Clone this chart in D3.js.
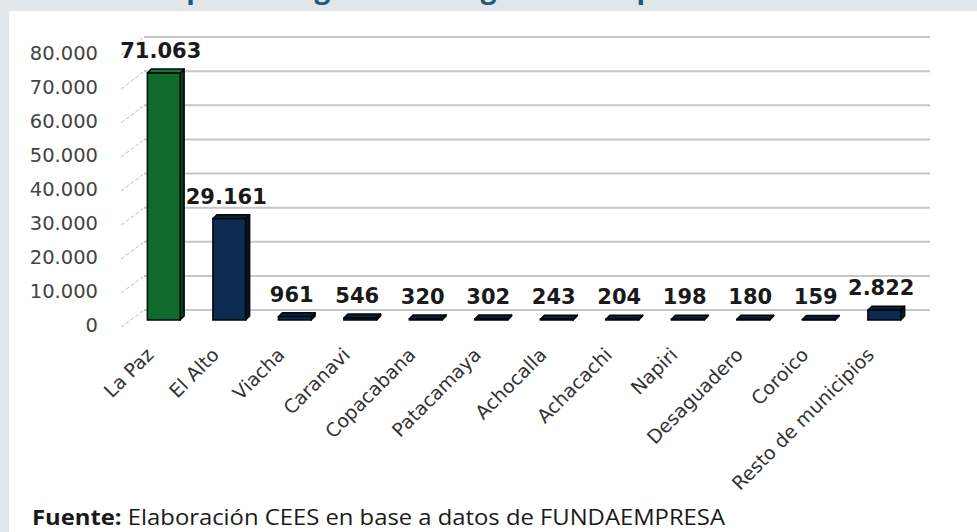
<!DOCTYPE html>
<html>
<head>
<meta charset="utf-8">
<script src="https://cdn.jsdelivr.net/npm/d3@7"></script>
<style>
  html, body { margin: 0; padding: 0; background: #e1e6ea; }
  svg { display: block; }
</style>
</head>
<body>
<svg id="chart" width="977" height="532"></svg>
<script>
// data
var municipios = ["La Paz", "El Alto", "Viacha", "Caranavi", "Copacabana", "Patacamaya",
                  "Achocalla", "Achacachi", "Napiri", "Desaguadero", "Coroico", "Resto de municipios"];
var empresas = [71063, 29161, 961, 546, 320, 302, 243, 204, 198, 180, 159, 2822];
var yTicks = [0, 10000, 20000, 30000, 40000, 50000, 60000, 70000, 80000];

var titulo = "Empresas registradas según municipio de La Paz";
var fuente = "Elaboración CEES en base a datos de FUNDAEMPRESA";

makeChart();

function makeChart() {
  var svg = d3.select("#chart");

  // es-BO style numbers: 80.000
  var fmt = d3.formatLocale({ decimal: ",", thousands: ".", grouping: [3], currency: ["", ""] }).format(",");

  // white card
  svg.append("rect")
      .attr("x", 9).attr("y", 11)
      .attr("width", 968).attr("height", 521)
      .attr("fill", "#ffffff");

  // title is cut by the top of the picture, only the descenders show
  svg.append("text")
      .attr("x", 480).attr("y", -2)
      .attr("text-anchor", "middle")
      .style("font-family", "'Open Sans', sans-serif")
      .style("font-weight", "bold")
      .style("font-size", "28px")
      .style("fill", "#1b5d77")
      .text(titulo);

  var x = d3.scaleBand()
      .domain(municipios)
      .range([131, 917])
      .paddingInner(0.5)
      .paddingOuter(0.25);

  // front face of the bars, back wall of the 3d plot, and the axis labels
  var yFront = d3.scaleLinear().domain([0, 80000]).range([320, 42]);
  var yBack  = d3.scaleLinear().domain([0, 80000]).range([310, 37]);
  var yLab   = d3.scaleLinear().domain([0, 80000]).range([325, 53]);

  var depth = 4;

  // back wall gridlines
  svg.append("g")
      .selectAll("line")
      .data(yTicks)
      .enter()
      .append("line")
        .attr("x1", 144).attr("x2", 930)
        .attr("y1", function(d) { return yBack(d); })
        .attr("y2", function(d) { return yBack(d); })
        .attr("stroke", "#c6c6c6")
        .attr("stroke-width", 2);

  // slanted little ticks from labels into the wall
  svg.append("g")
      .selectAll("line")
      .data(yTicks)
      .enter()
      .append("line")
        .attr("x1", 121).attr("x2", 143)
        .attr("y1", function(d) { return yLab(d) + 2; })
        .attr("y2", function(d) { return yBack(d) + 1; })
        .attr("stroke", "#bdbdbd")
        .attr("stroke-width", 1)
        .attr("stroke-dasharray", "4,2");

  // y axis labels
  var yAxis = d3.axisLeft(yLab)
      .tickValues(yTicks)
      .tickFormat(fmt)
      .tickSize(0)
      .tickPadding(0);

  var gy = svg.append("g")
      .attr("transform", "translate(98,0)")
      .call(yAxis);
  gy.select(".domain").remove();
  gy.selectAll("text")
      .style("font-family", "'DejaVu Sans', sans-serif")
      .style("font-size", "19.5px")
      .style("fill", "#444444");

  var front = function(i) { return i == 0 ? "#0f6a2c" : "#0d2b50"; };
  var side  = function(i) { return i == 0 ? "#073e18" : "#06172d"; };
  var top   = function(i) { return i == 0 ? "#157a35" : "#0a1f3a"; };

  var bars = svg.append("g")
      .selectAll("g")
      .data(empresas)
      .enter()
      .append("g");

  // right side face
  bars.append("polygon")
      .attr("points", function(d, i) {
        var x1 = x(municipios[i]) + x.bandwidth(), yt = yFront(d), yb = yFront(0);
        return [[x1, yt], [x1 + depth, yt - depth], [x1 + depth, yb - depth], [x1, yb]].join(" ");
      })
      .attr("fill", function(d, i) { return side(i); })
      .attr("stroke", "#03060a")
      .attr("stroke-width", 1.5)
      .attr("stroke-linejoin", "round");

  // top face
  bars.append("polygon")
      .attr("points", function(d, i) {
        var x0 = x(municipios[i]), x1 = x0 + x.bandwidth(), yt = yFront(d);
        return [[x0, yt], [x0 + depth, yt - depth], [x1 + depth, yt - depth], [x1, yt]].join(" ");
      })
      .attr("fill", function(d, i) { return top(i); })
      .attr("stroke", "#03060a")
      .attr("stroke-width", 1.5)
      .attr("stroke-linejoin", "round");

  // front face
  bars.append("rect")
      .attr("x", function(d, i) { return x(municipios[i]); })
      .attr("y", function(d) { return yFront(d); })
      .attr("width", x.bandwidth())
      .attr("height", function(d) { return yFront(0) - yFront(d); })
      .attr("fill", function(d, i) { return front(i); })
      .attr("stroke", "#03060a")
      .attr("stroke-width", 1.5);

  // value labels
  svg.append("g")
      .selectAll("text")
      .data(empresas)
      .enter()
      .append("text")
        .attr("x", function(d, i) { return x(municipios[i]) + x.bandwidth() / 2 - 3; })
        .attr("y", function(d) { return yFront(d) - 15; })
        .attr("text-anchor", "middle")
        .style("font-family", "'DejaVu Sans', sans-serif")
        .style("font-weight", "bold")
        .style("font-size", "21px")
        .style("fill", "#1a1a1a")
        .text(function(d) { return fmt(d); });

  // category labels, rotated
  svg.append("g")
      .selectAll("text")
      .data(municipios)
      .enter()
      .append("text")
        .attr("transform", function(d) {
          return "translate(" + (x(d) + x.bandwidth() / 2 - 9) + ",356) rotate(-45)";
        })
        .attr("text-anchor", "end")
        .style("font-family", "'DejaVu Sans', sans-serif")
        .style("font-size", "19px")
        .style("fill", "#333333")
        .text(function(d) { return d; });

  // source line
  var src = svg.append("text")
      .attr("x", 32).attr("y", 525)
      .attr("textLength", 693)
      .attr("lengthAdjust", "spacingAndGlyphs")
      .style("font-family", "'Open Sans', sans-serif")
      .style("font-size", "22px")
      .style("fill", "#1a1a1a");
  src.append("tspan").style("font-weight", "bold").text("Fuente: ");
  src.append("tspan").text(fuente);
}
</script>
</body>
</html>
